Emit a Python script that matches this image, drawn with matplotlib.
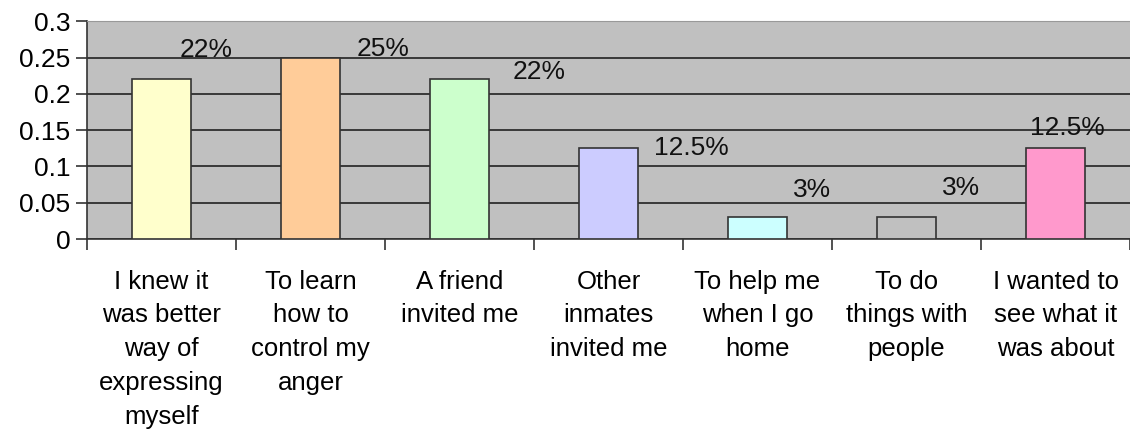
import matplotlib.pyplot as plt
import numpy as np

plt.rcParams['font.family'] = ['Liberation Sans', 'DejaVu Sans']

categories = ['I knew it\nwas better\nway of\nexpressing\nmyself',
              'To learn\nhow to\ncontrol my\nanger',
              'A friend\ninvited me',
              'Other\ninmates\ninvited me',
              'To help me\nwhen I go\nhome',
              'To do\nthings with\npeople',
              'I wanted to\nsee what it\nwas about']
values = [0.22, 0.25, 0.22, 0.125, 0.03, 0.03, 0.125]
labels = ['22%', '25%', '22%', '12.5%', '3%', '3%', '12.5%']
colors = ['#FFFFCC', '#FFCC99', '#CCFFCC', '#CCCCFF', '#CCFFFF', '#C0C0C0', '#FF99CC']
# label offsets from bar top (pixels)
offsets = [(45, 29), (73, 9), (80, 7), (83, 0), (55, 27), (55, 29), (12, 20)]

fig = plt.figure(figsize=(11.3, 4.33), dpi=100)
ax = fig.add_axes([0.077, 0.448, 0.923, 0.503])
ax.set_facecolor('#C0C0C0')

x = np.arange(len(values))
ax.bar(x, values, width=0.4, color=colors, edgecolor='#333333', linewidth=1.2, zorder=3)

for xi, v, lab, (dx, dy) in zip(x, values, labels, offsets):
    ax.annotate(lab, (xi, v), xytext=(dx, dy), textcoords='offset pixels',
                ha='center', va='center', fontsize=19, color='#111111', zorder=4)

ax.set_xlim(-0.5, len(values) - 0.5)
ax.set_ylim(0, 0.3)
ax.set_yticks([0, 0.05, 0.1, 0.15, 0.2, 0.25, 0.3])
ax.set_yticklabels(['0', '0.05', '0.1', '0.15', '0.2', '0.25', '0.3'])
ax.yaxis.grid(True, color='#222222', linewidth=1.2, zorder=0)
ax.set_axisbelow(True)

ax.set_xticks(x)
ax.set_xticklabels(categories, fontsize=18.5, linespacing=1.52, va='top')
ax.set_xticks(np.arange(-0.5, len(values)), minor=True)
ax.tick_params(axis='x', which='major', length=0, pad=22)
ax.tick_params(axis='x', which='minor', length=8, width=1.2, color='#333333')
ax.tick_params(axis='y', labelsize=19, length=8, width=1.2, color='#333333', pad=4)

ax.spines['top'].set_color('#999999')
ax.spines['right'].set_visible(False)
ax.spines['left'].set_color('#333333')
ax.spines['bottom'].set_color('#333333')
ax.spines['left'].set_linewidth(1.2)
ax.spines['bottom'].set_linewidth(1.2)

fig.savefig('out.png', dpi=100)
